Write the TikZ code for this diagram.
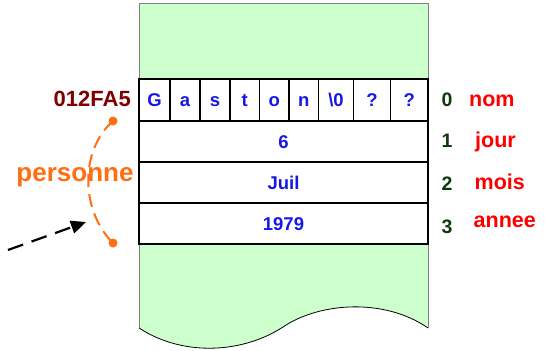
\documentclass[tikz,border=0pt]{standalone}
\usepackage{fontspec}
\setmainfont{Liberation Sans}
\usetikzlibrary{arrows.meta}
\definecolor{memgreen}{HTML}{CCFFCC}
\definecolor{addrred}{HTML}{800000}
\definecolor{persorange}{HTML}{FF6E10}
\definecolor{valblue}{HTML}{1818E6}
\definecolor{fieldred}{HTML}{FF0000}
\definecolor{idxgreen}{HTML}{0C3A0C}
\begin{document}
\begin{tikzpicture}[x=1pt,y=-1pt,
  cellbox/.style={draw=black, line width=1.2pt, fill=white, inner sep=0pt, outer sep=0pt,
    text=valblue, font=\fontsize{18.5}{20}\bfseries\selectfont, text height=13.5pt, text depth=0pt},
  idx/.style={anchor=base, text=idxgreen, inner sep=0pt, font=\fontsize{19.5}{20}\bfseries\selectfont},
  field/.style={anchor=base west, text=fieldred, inner sep=0pt, font=\fontsize{21.5}{22}\bfseries\selectfont},
  dot/.style={circle, fill=persorange, inner sep=0pt, minimum size=9pt}]
\useasboundingbox (0,0) rectangle (555,351);
% memory block
\fill[memgreen] (139,3) -- (428,3) -- (428,328)
  .. controls (385,298) and (320,302) .. (283,327)
  .. controls (245,352) and (185,358) .. (139,328) -- cycle;
\draw[gray, line width=0.8pt] (139,328) -- (139,3) -- (428,3) -- (428,328);
\draw[black, line width=0.8pt] (428,328)
  .. controls (385,298) and (320,302) .. (283,327)
  .. controls (245,352) and (185,358) .. (139,328);
% row 0 cells
\foreach \l/\r/\t [count=\i] in {139/170/G, 170/200/a, 200/230/s, 230/259.5/t, 259.5/289/o, 289/318.5/n, 318.5/353.5/{\textbackslash0}, 353.5/390.5/?, 390.5/428/?}{
  \pgfmathsetmacro\w{\r-\l}
  \pgfmathsetmacro\cx{(\l+\r)/2}
  \node[cellbox, minimum width=\w pt, minimum height=42pt] (c\i) at (\cx,100) {\t};
}
\node[cellbox, minimum width=289pt, minimum height=41pt] (r1) at (283.5,141.5) {6};
\node[cellbox, minimum width=289pt, minimum height=41pt] (r2) at (283.5,182.5) {Juil};
\node[cellbox, minimum width=289pt, minimum height=41pt] (r3) at (283.5,223.5) {1979};
% indices and field names
\node[idx] (i0) at (447,106) {0};
\node[idx] (i1) at (447,147) {1};
\node[idx] (i2) at (447,190.5) {2};
\node[idx] (i3) at (447,233) {3};
\node[field] (f0) at (469,106) {nom};
\node[field] (f1) at (475,147.5) {jour};
\node[field] (f2) at (474.5,189) {mois};
\node[field] (f3) at (473.5,227.5) {annee};
% address
\node[anchor=base east, inner sep=0pt, text=addrred, font=\fontsize{22}{24}\bfseries\selectfont] (addr) at (131,106) {012FA5};
% personne
\node[dot] (pa) at (113,121) {};
\node[dot] (pb) at (113,243) {};
\draw[persorange, line width=2pt, dash pattern=on 13pt off 7pt] (pa.center) .. controls (80,150) and (80,210) .. (pb.center);
\node[anchor=base, inner sep=0pt, text=persorange, font=\fontsize{26}{28}\bfseries\selectfont] (pers) at (75,181.5) {personne};
% pointer arrow
\coordinate (as) at (8,250);
\coordinate (ae) at (86,222);
\draw[black, line width=2.2pt, dash pattern=on 16pt off 9pt, -{Triangle[length=15pt,width=13pt]}] (as) -- (ae);
\end{tikzpicture}
\end{document}
